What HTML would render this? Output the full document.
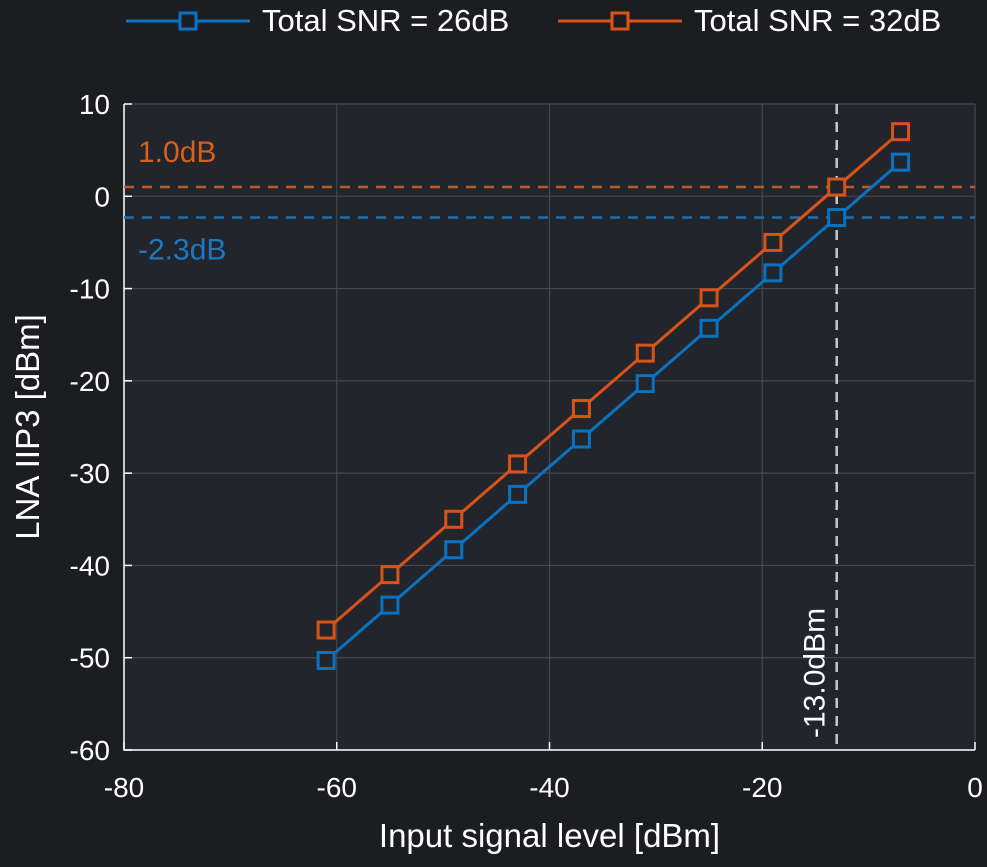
<!DOCTYPE html>
<html><head><meta charset="utf-8"><style>
body{margin:0;background:#1c1d21;}
svg text{font-family:"Liberation Sans",sans-serif;}
</style></head><body>
<svg id="chart" width="987" height="862" viewBox="0 0 987 862" xmlns="http://www.w3.org/2000/svg">
<rect width="987" height="862" fill="#1c1d21"/>
<g id="plot"></g>
</svg>
<script>
const xValues=[-61,-55,-49,-43,-37,-31,-25,-19,-13,-7];
const snr26=[-50.3,-44.3,-38.3,-32.3,-26.3,-20.3,-14.3,-8.3,-2.3,3.7];
const snr32=[-47,-41,-35,-29,-23,-17,-11,-5,1.0,7];
const xTicks=[-80,-60,-40,-20,0];
const yTicks=[10,0,-10,-20,-30,-40,-50,-60];
const hLine26=-2.3, hLine32=1.0, vLine=-13.0;
const L=124,R=975,T=104,B=750;
const xs=v=>L+(v+80)/80*(R-L);
const ys=v=>T+(10-v)/70*(B-T);
const g=document.getElementById('plot');
const NS='http://www.w3.org/2000/svg';
function mk(tag,attrs,parent){const e=document.createElementNS(NS,tag);for(const k in attrs)e.setAttribute(k,attrs[k]);(parent||g).appendChild(e);return e;}
let e=mk('rect',{x:L,y:T,width:R-L,height:B-T,fill:'#22252b'});


for(const t of xTicks){
 e=mk('line',{x1:xs(t),x2:xs(t),y1:T,y2:B,stroke:'#44474d','stroke-width':1.2});
 
 
 e=mk('text',{x:xs(t),y:B+47,fill:'#fff','font-size':28,'text-anchor':'middle'});e.textContent=t;
 
 
 e=mk('line',{x1:xs(t),x2:xs(t),y1:B,y2:B-8,stroke:'#fff','stroke-width':1.5});
 
 
}
for(const t of yTicks){
 e=mk('line',{x1:L,x2:R,y1:ys(t),y2:ys(t),stroke:'#44474d','stroke-width':1.2});
 
 
 e=mk('text',{x:L-14,y:ys(t)+10,fill:'#fff','font-size':28,'text-anchor':'end'});e.textContent=t;
 
 
 e=mk('line',{x1:L,x2:L+8,y1:ys(t),y2:ys(t),stroke:'#fff','stroke-width':1.5});
 
 
}
e=mk('path',{d:`M${L},${T}V${B}H${R}`,stroke:'#fff','stroke-width':1.5,fill:'none'});


e=mk('line',{x1:L,x2:R,y1:ys(hLine32),y2:ys(hLine32),stroke:'#c0582a','stroke-width':2.5,'stroke-dasharray':'10 8'});


e=mk('line',{x1:L,x2:R,y1:ys(hLine26),y2:ys(hLine26),stroke:'#1d6fae','stroke-width':2.5,'stroke-dasharray':'10 8'});


e=mk('line',{x1:xs(vLine),x2:xs(vLine),y1:T,y2:B,stroke:'#c8c8c8','stroke-width':2.5,'stroke-dasharray':'10 8'});


e=mk('text',{x:138,y:ys(hLine32)-25,fill:'#d95f1f','font-size':30});e.textContent=hLine32.toFixed(1)+'dB';


e=mk('text',{x:138,y:ys(hLine26)+42,fill:'#1b78c2','font-size':30});e.textContent=hLine26.toFixed(1)+'dB';


e=mk('text',{x:0,y:0,fill:'#fff','font-size':30,transform:`translate(${xs(vLine)-12},738) rotate(-90)`});e.textContent=vLine.toFixed(1)+'dBm';


function series(vals,color,name){
 e=mk('polyline',{points:xValues.map((x,i)=>xs(x)+','+ys(vals[i])).join(' '),stroke:color,'stroke-width':3,fill:'none'});
 
 
 xValues.forEach((x,i)=>{
  e=mk('rect',{x:xs(x)-8,y:ys(vals[i])-8,width:16,height:16,fill:'#22252b',stroke:color,'stroke-width':3});
  
  
 });
}
series(snr26,'#0a72c0','snr-26db');
series(snr32,'#d95319','snr-32db');
e=mk('text',{x:xs(-40),y:847,fill:'#fff','font-size':33,'text-anchor':'middle'});e.textContent='Input signal level [dBm]';


e=mk('text',{x:0,y:0,fill:'#fff','font-size':33,'text-anchor':'middle',transform:`translate(39,${ys(-25)}) rotate(-90)`});e.textContent='LNA IIP3 [dBm]';


function legend(x0,color,label,name){
 e=mk('line',{x1:x0,x2:x0+124,y1:21,y2:21,stroke:color,'stroke-width':3});
 
 
 e=mk('rect',{x:x0+54,y:13,width:16,height:16,fill:'#1c1d21',stroke:color,'stroke-width':3});
 
 
 e=mk('text',{x:x0+136,y:31,fill:'#fff','font-size':31});e.textContent=label;
 
 
}
legend(126,'#0a72c0','Total SNR = 26dB','snr-26db');
legend(558,'#d95319','Total SNR = 32dB','snr-32db');
</script>
</body></html>
